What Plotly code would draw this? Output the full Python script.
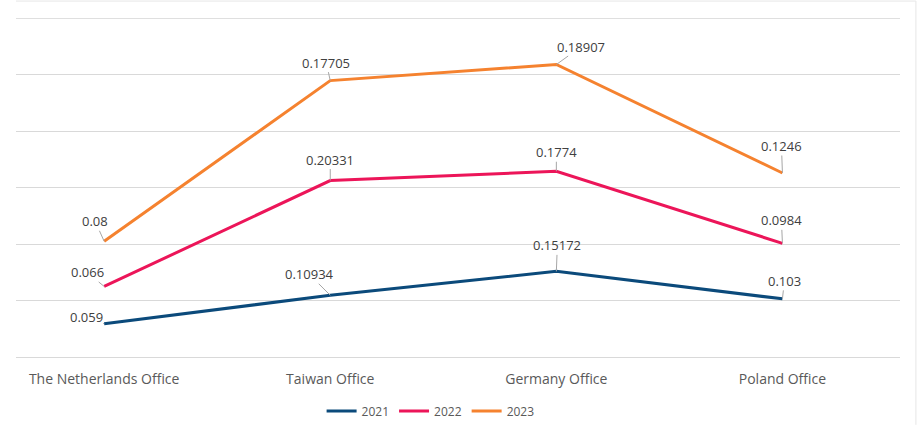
import plotly.graph_objects as go
import numpy as np

categories = ["The Netherlands Office", "Taiwan Office", "Germany Office", "Poland Office"]
series_names = ["2021", "2022", "2023"]
values_2021 = [0.059, 0.10934, 0.15172, 0.103]
values_2022 = [0.066, 0.20331, 0.1774, 0.0984]
values_2023 = [0.08, 0.17705, 0.18907, 0.1246]
label_2021 = ["0.059", "0.10934", "0.15172", "0.103"]
label_2022 = ["0.066", "0.20331", "0.1774", "0.0984"]
label_2023 = ["0.08", "0.17705", "0.18907", "0.1246"]
y_max = 0.6

colors = ["#0B4A7B", "#EC1559", "#F5822F"]
series = [values_2021, values_2022, values_2023]
labels = [label_2021, label_2022, label_2023]
# label offsets in pixels (text centre relative to point)
offsets = [
    [(-18, -7), (-21, -21), (1, -26), (2, -18)],
    [(-17, -14), (0, -21), (0, -19), (-1, -23)],
    [(-9, -20), (-4, -18), (25, -18), (-1, -27)],
]

FONT = "Open Sans"
fig = go.Figure()
for name, vals, col in zip(series_names, series, colors):
    fig.add_trace(go.Scatter(
        x=categories, y=vals, name=name, mode="lines",
        stackgroup="one", fill="none",
        line=dict(color=col, width=3),
        hoverinfo="skip",
    ))

cum = np.cumsum(np.array(series), axis=0)
annotations = []
for si in range(3):
    for ci, cat in enumerate(categories):
        dx, dy = offsets[si][ci]
        annotations.append(dict(
            x=cat, y=float(cum[si][ci]), xref="x", yref="y",
            text=labels[si][ci], showarrow=True, arrowhead=0,
            arrowwidth=1, arrowcolor="#A6A6A6", ax=dx, ay=dy,
            standoff=0, startstandoff=0,
            font=dict(family=FONT, size=13, color="#404040"),
            borderpad=0,
        ))

fig.update_layout(
    width=917, height=434,
    margin=dict(l=16, r=17, t=18, b=77, autoexpand=False),
    paper_bgcolor="white", plot_bgcolor="white",
    font=dict(family=FONT, size=13, color="#595959"),
    showlegend=True,
    legend=dict(orientation="h", x=0.469, xanchor="center", y=-0.159, yanchor="middle",
                font=dict(family=FONT, size=12, color="#595959"),
                itemwidth=30, tracegroupgap=0, traceorder="normal"),
    annotations=annotations,
    xaxis=dict(type="category", range=[-0.39, 3.52], showgrid=False, zeroline=False,
               showline=False, ticks="", ticklabelstandoff=12, automargin=False,
               tickfont=dict(family=FONT, size=14, color="#595959")),
    yaxis=dict(range=[0, y_max + 0.0006], dtick=0.1, showticklabels=False, showgrid=True,
               gridcolor="#D9D9D9", gridwidth=1, zeroline=True, zerolinecolor="#D9D9D9",
               zerolinewidth=1, showline=False, automargin=False),
    shapes=[
        dict(type="line", xref="paper", yref="y", x0=0, x1=1, y0=y_max, y1=y_max,
             line=dict(color="#D9D9D9", width=1), layer="below"),
        dict(type="line", xref="paper", yref="paper", x0=0, x1=1.018, y0=1.050, y1=1.050,
             line=dict(color="#E6E6E6", width=1)),
        dict(type="line", xref="paper", yref="paper", x0=1.018, x1=1.018, y0=1.050, y1=-0.2,
             line=dict(color="#E6E6E6", width=1)),
    ],
)

fig.write_html("out.html", config={"displayModeBar": False},
               post_script="document.body.style.margin='0';")
